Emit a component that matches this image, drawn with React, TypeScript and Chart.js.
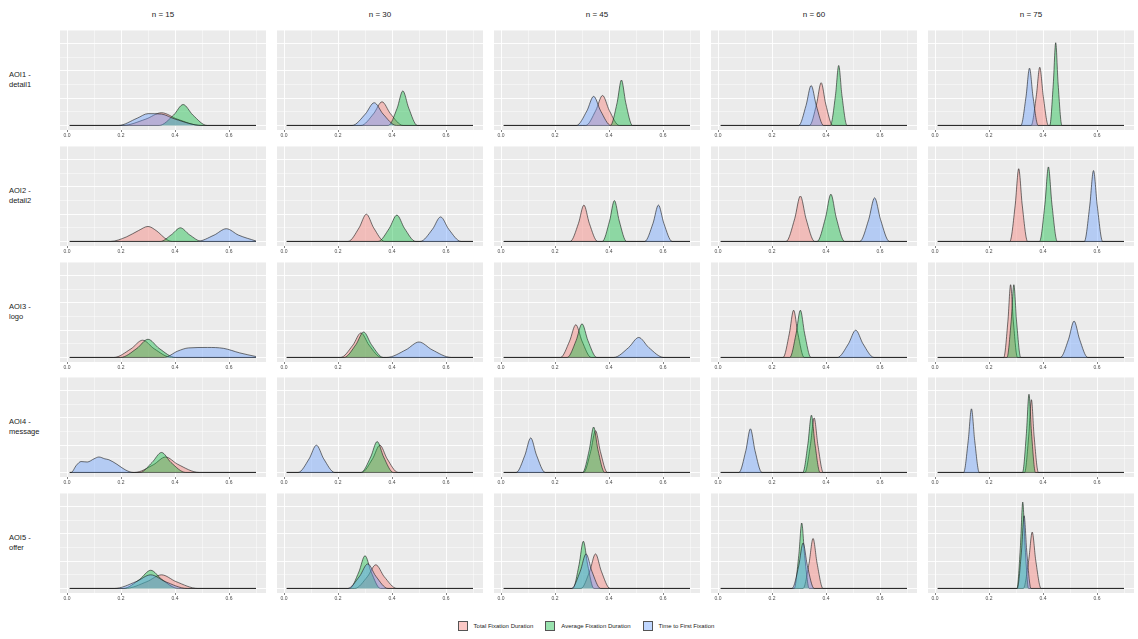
import React, { useEffect, useRef } from "react";
import { Chart, registerables } from "chart.js";

Chart.register(...registerables);

// ---------- labels ----------
const nLabels = ["n = 15", "n = 30", "n = 45", "n = 60", "n = 75"];
const aoiLabels = [
  ["AOI1 -", "detail1"],
  ["AOI2 -", "detail2"],
  ["AOI3 -", "logo"],
  ["AOI4 -", "message"],
  ["AOI5 -", "offer"],
];
const measureLabels = ["Total Fixation Duration", "Average Fixation Duration", "Time to First Fixation"];
const xMajorTicks = [0, 0.2, 0.4, 0.6];
const xMinorTicks = [0.1, 0.3, 0.5, 0.7];
const yGridTicks = [0, 0.15, 0.3, 0.45, 0.6, 0.75, 0.9, 1.05];

// density support (data range of the x scale)
const supportMin = 0.01;
const supportMax = 0.7;

// ---------- density curves: [x, density], one curve per n ----------
// AOI1 - detail1
const aoi1Total = [
  [[0.204, 0], [0.292, 0.07], [0.35, 0.14], [0.408, 0.07], [0.496, 0]],
  [[0.285, 0], [0.332, 0.13], [0.363, 0.26], [0.394, 0.13], [0.441, 0]],
  [[0.314, 0], [0.351, 0.165], [0.376, 0.33], [0.401, 0.165], [0.438, 0]],
  [[0.339, 0], [0.365, 0.235], [0.382, 0.47], [0.399, 0.235], [0.425, 0]],
  [[0.356, 0], [0.375, 0.32], [0.388, 0.64], [0.401, 0.32], [0.42, 0]],
];
const aoi1Average = [
  [[0.341, 0], [0.395, 0.115], [0.43, 0.23], [0.466, 0.115], [0.519, 0]],
  [[0.386, 0], [0.419, 0.19], [0.44, 0.38], [0.462, 0.19], [0.494, 0]],
  [[0.405, 0], [0.43, 0.25], [0.446, 0.5], [0.462, 0.25], [0.487, 0]],
  [[0.416, 0], [0.435, 0.33], [0.447, 0.66], [0.459, 0.33], [0.478, 0]],
  [[0.425, 0], [0.438, 0.455], [0.447, 0.91], [0.456, 0.455], [0.47, 0]],
];
const aoi1First = [
  [[0.19, 0], [0.26, 0.08], [0.3, 0.13], [0.35, 0.125], [0.4, 0.07], [0.5, 0]],
  [[0.252, 0], [0.301, 0.125], [0.334, 0.25], [0.367, 0.125], [0.416, 0]],
  [[0.279, 0], [0.318, 0.16], [0.343, 0.32], [0.369, 0.16], [0.407, 0]],
  [[0.299, 0], [0.326, 0.22], [0.345, 0.44], [0.364, 0.22], [0.391, 0]],
  [[0.318, 0], [0.337, 0.315], [0.35, 0.63], [0.363, 0.315], [0.382, 0]],
];

// AOI2 - detail2
const aoi2Total = [
  [[0.16, 0], [0.22, 0.05], [0.265, 0.12], [0.3, 0.165], [0.33, 0.12], [0.37, 0.02], [0.39, 0]],
  [[0.237, 0], [0.278, 0.15], [0.305, 0.3], [0.332, 0.15], [0.373, 0]],
  [[0.256, 0], [0.287, 0.2], [0.307, 0.4], [0.327, 0.2], [0.358, 0]],
  [[0.252, 0], [0.284, 0.25], [0.305, 0.5], [0.326, 0.25], [0.358, 0]],
  [[0.277, 0], [0.297, 0.4], [0.31, 0.8], [0.323, 0.4], [0.343, 0]],
];
const aoi2Average = [
  [[0.345, 0], [0.387, 0.075], [0.42, 0.15], [0.453, 0.075], [0.5, 0]],
  [[0.348, 0], [0.39, 0.145], [0.418, 0.29], [0.446, 0.145], [0.488, 0]],
  [[0.375, 0], [0.402, 0.225], [0.42, 0.45], [0.438, 0.225], [0.465, 0]],
  [[0.367, 0], [0.398, 0.26], [0.418, 0.52], [0.438, 0.26], [0.469, 0]],
  [[0.387, 0], [0.407, 0.41], [0.42, 0.82], [0.433, 0.41], [0.453, 0]],
];
const aoi2First = [
  [[0.48, 0], [0.545, 0.07], [0.59, 0.14], [0.635, 0.07], [0.7, 0.005]],
  [[0.504, 0], [0.55, 0.135], [0.58, 0.27], [0.61, 0.135], [0.656, 0]],
  [[0.532, 0], [0.563, 0.2], [0.583, 0.4], [0.603, 0.2], [0.634, 0]],
  [[0.525, 0], [0.558, 0.24], [0.58, 0.48], [0.602, 0.24], [0.635, 0]],
  [[0.553, 0], [0.573, 0.39], [0.587, 0.78], [0.601, 0.39], [0.621, 0]],
];

// AOI3 - logo
const aoi3Total = [
  [[0.173, 0], [0.237, 0.095], [0.28, 0.19], [0.323, 0.095], [0.387, 0]],
  [[0.209, 0], [0.255, 0.135], [0.285, 0.27], [0.315, 0.135], [0.361, 0]],
  [[0.22, 0], [0.254, 0.18], [0.277, 0.36], [0.3, 0.18], [0.334, 0]],
  [[0.241, 0], [0.264, 0.26], [0.28, 0.52], [0.296, 0.26], [0.319, 0]],
  [[0.2545, 0], [0.27, 0.4], [0.28, 0.8], [0.29, 0.4], [0.3055, 0]],
];
const aoi3Average = [
  [[0.198, 0], [0.259, 0.1], [0.3, 0.2], [0.341, 0.1], [0.402, 0]],
  [[0.222, 0], [0.266, 0.14], [0.295, 0.28], [0.324, 0.14], [0.368, 0]],
  [[0.245, 0], [0.278, 0.185], [0.3, 0.37], [0.322, 0.185], [0.355, 0]],
  [[0.266, 0], [0.289, 0.26], [0.305, 0.52], [0.321, 0.26], [0.344, 0]],
  [[0.2665, 0], [0.282, 0.4], [0.292, 0.8], [0.302, 0.4], [0.3175, 0]],
];
const aoi3First = [
  [[0.36, 0], [0.41, 0.07], [0.45, 0.105], [0.52, 0.11], [0.58, 0.1], [0.64, 0.05], [0.7, 0.01]],
  [[0.38, 0], [0.452, 0.085], [0.5, 0.17], [0.548, 0.085], [0.62, 0]],
  [[0.417, 0], [0.473, 0.11], [0.51, 0.22], [0.547, 0.11], [0.603, 0]],
  [[0.442, 0], [0.483, 0.15], [0.51, 0.3], [0.537, 0.15], [0.578, 0]],
  [[0.464, 0], [0.4946, 0.2], [0.515, 0.4], [0.5354, 0.2], [0.566, 0]],
];

// AOI4 - message
const aoi4Total = [
  [[0.25, 0], [0.32, 0.085], [0.365, 0.17], [0.41, 0.09], [0.49, 0]],
  [[0.287, 0], [0.328, 0.15], [0.355, 0.3], [0.382, 0.15], [0.423, 0]],
  [[0.306, 0], [0.332, 0.23], [0.35, 0.46], [0.368, 0.23], [0.394, 0]],
  [[0.322, 0], [0.342, 0.3], [0.356, 0.6], [0.37, 0.3], [0.39, 0]],
  [[0.332, 0], [0.347, 0.4], [0.357, 0.8], [0.367, 0.4], [0.383, 0]],
];
const aoi4Average = [
  [[0.27, 0], [0.315, 0.11], [0.35, 0.22], [0.385, 0.11], [0.44, 0]],
  [[0.285, 0], [0.321, 0.17], [0.345, 0.34], [0.369, 0.17], [0.405, 0]],
  [[0.302, 0], [0.327, 0.25], [0.343, 0.5], [0.359, 0.25], [0.384, 0]],
  [[0.314, 0], [0.333, 0.315], [0.346, 0.63], [0.359, 0.315], [0.378, 0]],
  [[0.324, 0], [0.3385, 0.43], [0.348, 0.86], [0.3575, 0.43], [0.372, 0]],
];
const aoi4First = [
  [[0.015, 0], [0.035, 0.08], [0.052, 0.12], [0.075, 0.115], [0.1, 0.15], [0.118, 0.17], [0.14, 0.15], [0.155, 0.14], [0.185, 0.09], [0.215, 0.03], [0.245, 0]],
  [[0.052, 0], [0.093, 0.15], [0.12, 0.3], [0.147, 0.15], [0.188, 0]],
  [[0.056, 0], [0.0885, 0.19], [0.11, 0.38], [0.1315, 0.19], [0.164, 0]],
  [[0.0775, 0], [0.103, 0.24], [0.12, 0.48], [0.137, 0.24], [0.1625, 0]],
  [[0.106, 0], [0.123, 0.35], [0.135, 0.7], [0.147, 0.35], [0.164, 0]],
];

// AOI5 - offer
const aoi5Total = [
  [[0.215, 0], [0.296, 0.075], [0.35, 0.15], [0.404, 0.075], [0.485, 0]],
  [[0.262, 0], [0.309, 0.13], [0.34, 0.26], [0.371, 0.13], [0.418, 0]],
  [[0.296, 0], [0.3285, 0.19], [0.35, 0.38], [0.3715, 0.19], [0.404, 0]],
  [[0.315, 0], [0.337, 0.275], [0.352, 0.55], [0.367, 0.275], [0.389, 0]],
  [[0.327, 0], [0.347, 0.31], [0.36, 0.62], [0.373, 0.31], [0.393, 0]],
];
const aoi5Average = [
  [[0.208, 0], [0.269, 0.1], [0.31, 0.2], [0.351, 0.1], [0.412, 0]],
  [[0.243, 0], [0.277, 0.18], [0.3, 0.36], [0.323, 0.18], [0.357, 0]],
  [[0.266, 0], [0.289, 0.26], [0.305, 0.52], [0.321, 0.26], [0.344, 0]],
  [[0.282, 0], [0.299, 0.36], [0.31, 0.72], [0.321, 0.36], [0.338, 0]],
  [[0.3035, 0], [0.3165, 0.475], [0.325, 0.95], [0.3335, 0.475], [0.3465, 0]],
];
const aoi5First = [
  [[0.175, 0], [0.256, 0.075], [0.31, 0.15], [0.364, 0.075], [0.445, 0]],
  [[0.235, 0], [0.28, 0.135], [0.31, 0.27], [0.34, 0.135], [0.385, 0]],
  [[0.261, 0], [0.2935, 0.19], [0.315, 0.38], [0.3365, 0.19], [0.369, 0]],
  [[0.274, 0], [0.299, 0.25], [0.315, 0.5], [0.331, 0.25], [0.356, 0]],
  [[0.3045, 0], [0.32, 0.4], [0.33, 0.8], [0.34, 0.4], [0.3555, 0]],
];

const rowData = [
  { total: aoi1Total, average: aoi1Average, first: aoi1First },
  { total: aoi2Total, average: aoi2Average, first: aoi2First },
  { total: aoi3Total, average: aoi3Average, first: aoi3First },
  { total: aoi4Total, average: aoi4Average, first: aoi4First },
  { total: aoi5Total, average: aoi5Average, first: aoi5First },
];

// ---------- styling / layout ----------
const FONT = "'Liberation Sans', Arial, Helvetica, sans-serif";
const fillColors = ["rgba(248,118,109,0.4)", "rgba(0,186,56,0.4)", "rgba(97,156,255,0.4)"];
const panelBg = "#EBEBEB";
const PANEL_LEFT = 60;
const PANEL_W = 206;
const COL_PITCH = 217;
const ROW_TOP = 30;
const ROW_PITCH = 115.8;
const PANEL_H = 100;
const CANVAS_H = PANEL_H + 10;
const X_MIN = -0.026;
const X_MAX = 0.737;

const bgPlugin = {
  id: "panelBg",
  beforeDraw(chart: any) {
    const { ctx, chartArea } = chart;
    ctx.save();
    ctx.fillStyle = panelBg;
    ctx.fillRect(chartArea.left, chartArea.top, chartArea.right - chartArea.left, chartArea.bottom - chartArea.top);
    ctx.restore();
  },
};

function withSupport(pts: number[][]) {
  const arr = pts.map(([x, y]) => ({ x, y }));
  if (arr[0].x > supportMin) arr.unshift({ x: supportMin, y: 0 });
  if (arr[arr.length - 1].x < supportMax) arr.push({ x: supportMax, y: 0 });
  return arr;
}

const isMajorX = (v: number) => xMajorTicks.some((m) => Math.abs(m - v) < 1e-6);

function Panel({ row, col }: { row: number; col: number }) {
  const ref = useRef<HTMLCanvasElement | null>(null);
  useEffect(() => {
    const r = rowData[row];
    // drawn order: first dataset is on top in Chart.js
    const series = [
      { pts: r.first[col], fill: fillColors[2], label: measureLabels[2] },
      { pts: r.average[col], fill: fillColors[1], label: measureLabels[1] },
      { pts: r.total[col], fill: fillColors[0], label: measureLabels[0] },
    ];
    const xTicks = [...xMajorTicks, ...xMinorTicks].sort((a, b) => a - b);
    const chart = new Chart(ref.current as HTMLCanvasElement, {
      type: "line",
      data: {
        datasets: series.map((s) => ({
          label: s.label,
          data: withSupport(s.pts),
          fill: "origin",
          backgroundColor: s.fill,
          borderColor: "#1A1A1A",
          borderWidth: 0.6,
          pointRadius: 0,
          cubicInterpolationMode: "monotone",
        })),
      },
      options: {
        animation: false,
        responsive: false,
        events: [],
        layout: { padding: 0 },
        plugins: { legend: { display: false }, tooltip: { enabled: false } },
        scales: {
          x: {
            type: "linear",
            min: X_MIN,
            max: X_MAX,
            afterBuildTicks: (s: any) => {
              s.ticks = xTicks.map((v) => ({ value: v }));
            },
            ticks: {
              autoSkip: false,
              maxRotation: 0,
              padding: 1,
              color: "#4D4D4D",
              font: { size: 5, family: FONT },
              callback: (v: any) => (isMajorX(Number(v)) ? Number(v).toFixed(1) : ""),
            },
            grid: {
              color: "#FFFFFF",
              lineWidth: (c: any) => (c.tick && isMajorX(c.tick.value) ? 0.9 : 0.45),
              drawTicks: true,
              tickLength: 2,
              tickWidth: 0.6,
              tickColor: (c: any) => (c.tick && isMajorX(c.tick.value) ? "#333333" : "rgba(0,0,0,0)"),
            },
            border: { display: false },
          },
          y: {
            type: "linear",
            min: -0.05,
            max: 1.05,
            afterBuildTicks: (s: any) => {
              s.ticks = yGridTicks.map((v) => ({ value: v }));
            },
            ticks: { display: false },
            grid: {
              color: "#FFFFFF",
              lineWidth: (c: any) => (c.index % 2 === 0 ? 0.9 : 0.45),
              drawTicks: false,
            },
            border: { display: false },
          },
        },
      } as any,
      plugins: [bgPlugin],
    });
    return () => chart.destroy();
  }, [row, col]);
  return (
    <canvas
      ref={ref}
      width={PANEL_W}
      height={CANVAS_H}
      style={{
        position: "absolute",
        left: PANEL_LEFT + col * COL_PITCH,
        top: Math.round(ROW_TOP + row * ROW_PITCH),
        width: PANEL_W,
        height: CANVAS_H,
      }}
    />
  );
}

export default function App() {
  const panels = [];
  for (let r = 0; r < 5; r++) for (let c = 0; c < 5; c++) panels.push(<Panel key={`${r}-${c}`} row={r} col={c} />);
  return (
    <div
      style={{
        position: "absolute",
        left: 0,
        top: 0,
        width: 1138,
        height: 639,
        background: "#FFFFFF",
        fontFamily: FONT,
        color: "#1A1A1A",
        overflow: "hidden",
      }}
    >
      {nLabels.map((t, c) => (
        <div
          key={t}
          style={{
            position: "absolute",
            left: PANEL_LEFT + c * COL_PITCH,
            width: PANEL_W,
            top: 10,
            textAlign: "center",
            fontSize: 8,
            lineHeight: "10px",
          }}
        >
          {t}
        </div>
      ))}
      {aoiLabels.map((lines, r) => (
        <div
          key={lines[0]}
          style={{
            position: "absolute",
            left: 9,
            top: Math.round(ROW_TOP + r * ROW_PITCH + PANEL_H / 2 - 10),
            fontSize: 7.5,
            lineHeight: "10px",
          }}
        >
          <div>{lines[0]}</div>
          <div>{lines[1]}</div>
        </div>
      ))}
      {panels}
      <div
        style={{
          position: "absolute",
          left: 0,
          width: 1138,
          top: 621,
          display: "flex",
          justifyContent: "center",
          alignItems: "center",
          paddingLeft: 46,
          boxSizing: "border-box",
        }}
      >
        {measureLabels.map((m, i) => (
          <div key={m} style={{ display: "flex", alignItems: "center", marginRight: 12 }}>
            <div
              style={{
                width: 8,
                height: 8,
                background: fillColors[i],
                border: "0.6px solid #555",
                marginRight: 6,
              }}
            />
            <span style={{ fontSize: 6, color: "#1A1A1A" }}>{m}</span>
          </div>
        ))}
      </div>
    </div>
  );
}
